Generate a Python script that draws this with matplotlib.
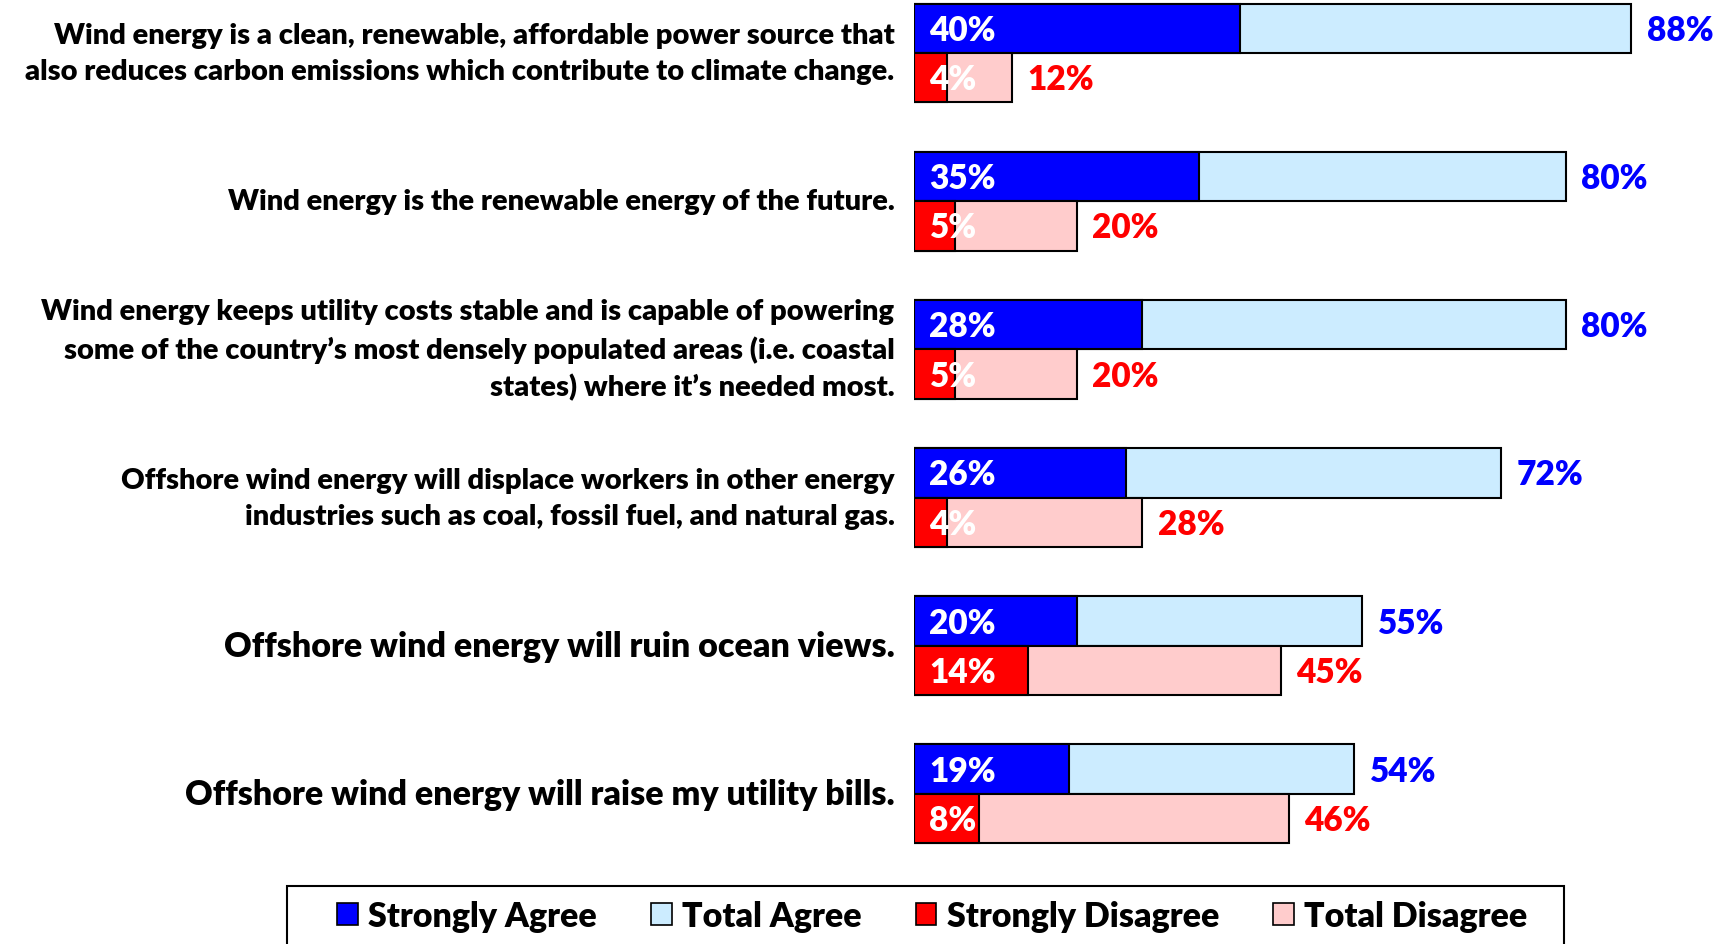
import matplotlib.pyplot as plt
from matplotlib.patches import Rectangle, Patch

plt.rcParams['font.family'] = ['Lato', 'DejaVu Sans']

statements = [
    "Wind energy is a clean, renewable, affordable power source that\nalso reduces carbon emissions which contribute to climate change.",
    "Wind energy is the renewable energy of the future.",
    "Wind energy keeps utility costs stable and is capable of powering\nsome of the country\u2019s most densely populated areas (i.e. coastal\nstates) where it\u2019s needed most.",
    "Offshore wind energy will displace workers in other energy\nindustries such as coal, fossil fuel, and natural gas.",
    "Offshore wind energy will ruin ocean views.",
    "Offshore wind energy will raise my utility bills.",
]
label_sizes = [21, 21, 21, 21, 24.5, 24.5]
strongly_agree = [40, 35, 28, 26, 20, 19]
total_agree = [88, 80, 80, 72, 55, 54]
strongly_disagree = [4, 5, 5, 4, 14, 8]
total_disagree = [12, 20, 20, 28, 45, 46]

BLUE = "#0000FF"
LBLUE = "#CCECFF"
RED = "#FF0000"
LRED = "#FFCCCC"
WT = "heavy"

W, H = 1726, 945
fig = plt.figure(figsize=(W / 100, H / 100), dpi=100)
# x: 0% at 914 px, 8.15 px per percent
ax = fig.add_axes([914 / W, 0, 815 / W, 1])
ax.set_xlim(0, 100)
pitch = 148.2
top = -54 / pitch
ax.set_ylim((H - 54) / pitch, top)
ax.axis("off")

h = 49.5 / pitch
ys = list(range(len(statements)))
ya = [y - h / 2 for y in ys]
yd = [y + h / 2 for y in ys]
kw = dict(height=h, edgecolor="black", linewidth=1.5)
ax.barh(ya, total_agree, color=LBLUE, **kw)
ax.barh(ya, strongly_agree, color=BLUE, **kw)
ax.barh(yd, total_disagree, color=LRED, **kw)
ax.barh(yd, strongly_disagree, color=RED, **kw)

fs = 24
for i in ys:
    ax.text(1.9, ya[i] + 0.01, f"{strongly_agree[i]}%", color="white", fontsize=fs,
            va="center", ha="left", fontweight=WT)
    ax.text(1.9, yd[i] + 0.01, f"{strongly_disagree[i]}%", color="white", fontsize=fs,
            va="center", ha="left", fontweight=WT)
    ax.text(total_agree[i] + 1.9, ya[i] + 0.01, f"{total_agree[i]}%", color=BLUE,
            fontsize=fs, va="center", ha="left", fontweight=WT)
    ax.text(total_disagree[i] + 1.9, yd[i] + 0.01, f"{total_disagree[i]}%", color=RED,
            fontsize=fs, va="center", ha="left", fontweight=WT)
    ax.text(-2.4, i, statements[i], fontsize=label_sizes[i], ha="right",
            va="center", multialignment="right", fontweight=WT,
            linespacing=1.48, clip_on=False)

# legend box running off the bottom edge
fig.patches.append(Rectangle((287 / W, -0.05), (1564 - 287) / W, 0.05 + 1 - 887 / H,
                             transform=fig.transFigure, facecolor="white",
                             edgecolor="black", linewidth=1.5))
handles = [Patch(facecolor=c, edgecolor="black", linewidth=1.2)
           for c in [BLUE, LBLUE, RED, LRED]]
fig.legend(handles, ["Strongly Agree", "Total Agree", "Strongly Disagree", "Total Disagree"],
           loc="center", bbox_to_anchor=((287 + 1564) / 2 / W + 0.004, 1 - 917 / H),
           ncol=4, frameon=False, prop={"size": 24.5, "weight": WT},
           handlelength=0.6, handleheight=0.6, handletextpad=0.3, columnspacing=1.6)

fig.savefig("out.png", dpi=100)
